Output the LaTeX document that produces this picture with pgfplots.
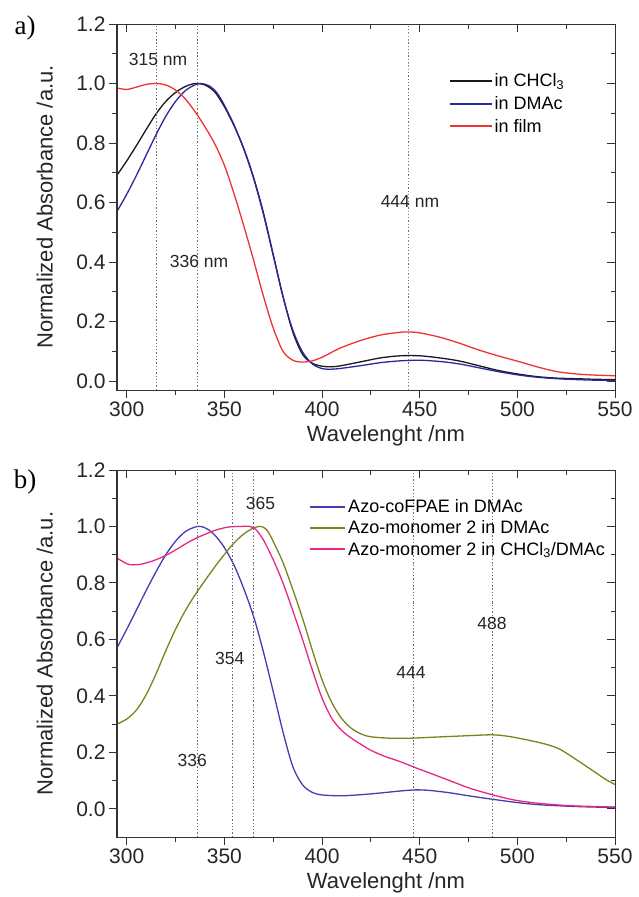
\documentclass[border=0pt]{standalone}
\usepackage{fontspec}
\setmainfont{Liberation Sans}
\newfontfamily\panelfont{Liberation Serif}
\usepackage{pgfplots}
\pgfplotsset{compat=1.18}

\definecolor{cblack}{RGB}{25,25,25}
\definecolor{cblue}{RGB}{40,40,160}
\definecolor{cred}{RGB}{240,50,50}
\definecolor{pblue}{RGB}{70,60,175}
\definecolor{polive}{RGB}{128,128,30}
\definecolor{ppink}{RGB}{230,40,130}
\definecolor{dotgray}{RGB}{110,110,110}

\pgfplotsset{
  frame/.style={
    scale only axis, width=498pt,
    xmin=295, xmax=550, xtick={300,350,400,450,500,550}, minor x tick num=1,
    ymax=1.2, ytick={0,0.2,0.4,0.6,0.8,1.0,1.2}, minor y tick num=1,
    major tick length=8pt, minor tick length=4.5pt,
    every tick/.style={line width=0.9pt, black!80},
    axis line style={line width=1pt, black!80},
    clip=false,
  },
  spectrum/.style={
    frame, tick align=outside, xtick pos=left, ytick pos=left,
    /pgf/number format/assume math mode=true,
    tick label style={font=\fontsize{21}{24}\selectfont, black!85},
    yticklabel style={/pgf/number format/.cd, fixed, fixed zerofill, precision=1},
    label style={font=\fontsize{22}{26}\selectfont, black!85},
    xlabel={Wavelenght /nm}, ylabel={Normalized Absorbance /a.u.},
    xlabel style={at={(axis description cs:0.54,-0.126)}, anchor=center},
    ylabel style={at={(axis description cs:-0.145,0.5)}, anchor=center},
    legend cell align=left,
    every axis plot/.append style={line width=1.3pt, smooth},
  },
  mirror/.style={
    frame, tick align=inside, xtick pos=right, ytick pos=right,
    xticklabels={}, yticklabels={},
  },
  guide/.style={dotted, line width=0.8pt, dotgray, forget plot},
}

\begin{document}
\begin{tikzpicture}
\useasboundingbox (0,0) rectangle (638pt,-897pt);

% ---------------- panel a ----------------
\begin{axis}[spectrum, at={(117pt,-390pt)}, anchor=south west, height=366pt, ymin=-0.03,
  legend style={draw=none, fill=none, font=\fontsize{18}{21}\selectfont,
    at={(0.66,0.875)}, anchor=north west, row sep=4pt},
  legend image code/.code={\draw[#1, line width=1.8pt] (0pt,0pt) -- (42pt,0pt);}]
% in CHCl3
\addplot[cblack] coordinates {
(295,0.692) (300,0.740) (305,0.792) (310,0.846) (315,0.898) (320,0.940) (325,0.970)
(330,0.990) (335,1.000) (340,0.995) (345,0.972) (350,0.922) (355,0.857) (360,0.780)
(365,0.683) (370,0.565) (375,0.425) (380,0.285) (385,0.165) (390,0.090) (395,0.060)
(400,0.050) (405,0.048) (410,0.052) (420,0.065) (430,0.078) (440,0.085) (450,0.085)
(460,0.078) (470,0.068) (480,0.052) (490,0.036) (500,0.024) (510,0.015) (520,0.010)
(530,0.008) (540,0.006) (550,0.005)};
% in DMAc
\addplot[cblue] coordinates {
(295,0.570) (300,0.628) (305,0.692) (310,0.760) (315,0.828) (320,0.890) (325,0.940)
(330,0.976) (335,0.996) (338,1.000) (342,0.993) (346,0.970) (350,0.927) (355,0.860)
(360,0.778) (365,0.680) (370,0.560) (375,0.422) (380,0.283) (385,0.172) (390,0.098)
(395,0.058) (400,0.042) (405,0.040) (410,0.043) (420,0.052) (430,0.062) (440,0.068)
(450,0.070) (460,0.066) (470,0.058) (480,0.045) (490,0.032) (500,0.021) (510,0.013)
(520,0.008) (530,0.005) (540,0.003) (550,0.002)};
% in film
\addplot[cred] coordinates {
(295,0.985) (300,0.980) (305,0.988) (310,0.997) (315,1.000) (320,0.995) (325,0.978)
(330,0.948) (335,0.905) (340,0.855) (345,0.798) (350,0.725) (355,0.628) (360,0.520)
(365,0.405) (370,0.285) (375,0.178) (380,0.100) (385,0.070) (390,0.064) (395,0.068)
(400,0.080) (405,0.097) (410,0.113) (420,0.137) (430,0.155) (440,0.164) (445,0.165)
(450,0.162) (460,0.148) (470,0.128) (480,0.105) (490,0.085) (500,0.067) (510,0.048)
(520,0.032) (530,0.024) (540,0.020) (550,0.018)};
\legend{in CHCl\textsubscript{3}, in DMAc, in film}
\addplot[guide] coordinates {(315,-0.03) (315,1.2)};
\addplot[guide] coordinates {(336,-0.03) (336,1.2)};
\addplot[guide] coordinates {(444,-0.03) (444,1.2)};
\node[font=\fontsize{17.5}{20}\selectfont, black!85] at (axis cs:316,1.08) {315 nm};
\node[font=\fontsize{17.5}{20}\selectfont, black!85] at (axis cs:337,0.403) {336 nm};
\node[font=\fontsize{17.5}{20}\selectfont, black!85] at (axis cs:445,0.605) {444 nm};
\end{axis}
\begin{axis}[mirror, at={(117pt,-390pt)}, anchor=south west, height=366pt, ymin=-0.03]
\end{axis}

% ---------------- panel b ----------------
\begin{axis}[spectrum, at={(117pt,-837pt)}, anchor=south west, height=367pt, ymin=-0.1,
  legend style={draw=none, fill=none, font=\fontsize{18}{21}\selectfont,
    at={(0.38,0.93)}, anchor=north west, row sep=2.5pt},
  legend image code/.code={\draw[#1, line width=1.8pt] (0pt,0pt) -- (35pt,0pt);}]
% Azo-coFPAE in DMAc
\addplot[pblue] coordinates {
(295,0.570) (300,0.636) (305,0.705) (310,0.774) (315,0.840) (320,0.900) (325,0.948)
(330,0.982) (335,0.998) (338,1.000) (342,0.988) (346,0.962) (350,0.925) (355,0.862)
(360,0.778) (365,0.680) (370,0.555) (375,0.415) (380,0.272) (385,0.150) (390,0.085)
(395,0.058) (400,0.049) (410,0.046) (420,0.050) (430,0.056) (440,0.063) (448,0.067)
(455,0.065) (465,0.057) (475,0.046) (487,0.034) (500,0.022) (510,0.015) (520,0.011)
(530,0.008) (540,0.006) (550,0.005)};
% Azo-monomer 2 in DMAc
\addplot[polive] coordinates {
(295,0.300) (300,0.318) (305,0.350) (310,0.405) (315,0.478) (320,0.560) (325,0.636)
(330,0.702) (335,0.758) (340,0.808) (345,0.856) (350,0.901) (355,0.942) (360,0.974)
(365,0.995) (369,1.000) (372,0.985) (375,0.947) (380,0.872) (385,0.777) (390,0.675)
(395,0.562) (400,0.457) (405,0.376) (410,0.320) (415,0.285) (420,0.265) (425,0.255)
(435,0.250) (445,0.250) (455,0.253) (465,0.256) (475,0.259) (487,0.262) (495,0.257)
(505,0.244) (515,0.228) (522,0.210) (530,0.175) (538,0.138) (545,0.105) (550,0.086)};
% Azo-monomer 2 in CHCl3/DMAc
\addplot[ppink] coordinates {
(295,0.888) (300,0.868) (303,0.864) (307,0.866) (312,0.875) (317,0.888) (322,0.905)
(327,0.925) (331,0.942) (336,0.960) (341,0.975) (346,0.988) (352,0.998) (358,1.000)
(363,1.000) (366,0.990) (370,0.952) (375,0.882) (380,0.800) (385,0.702) (390,0.600)
(395,0.492) (400,0.392) (405,0.320) (410,0.278) (415,0.250) (420,0.228) (425,0.207)
(432,0.186) (440,0.167) (448,0.145) (455,0.127) (466,0.098) (476,0.072) (487,0.050)
(495,0.036) (501,0.028) (510,0.020) (520,0.014) (530,0.010) (540,0.008) (550,0.006)};
\legend{Azo-coFPAE in DMAc, Azo-monomer 2 in DMAc, Azo-monomer 2 in CHCl\textsubscript{3}/DMAc}
\addplot[guide] coordinates {(336,-0.1) (336,1.2)};
\addplot[guide] coordinates {(354,-0.1) (354,1.2)};
\addplot[guide] coordinates {(365,-0.1) (365,1.2)};
\addplot[guide] coordinates {(447,-0.1) (447,1.2)};
\addplot[guide] coordinates {(487,-0.1) (487,1.2)};
\node[font=\fontsize{17.5}{20}\selectfont, black!85] at (axis cs:368.5,1.082) {365};
\node[font=\fontsize{17.5}{20}\selectfont, black!85] at (axis cs:352.7,0.534) {354};
\node[font=\fontsize{17.5}{20}\selectfont, black!85] at (axis cs:333.5,0.170) {336};
\node[font=\fontsize{17.5}{20}\selectfont, black!85] at (axis cs:445.5,0.484) {444};
\node[font=\fontsize{17.5}{20}\selectfont, black!85] at (axis cs:487,0.657) {488};
\end{axis}
\begin{axis}[mirror, at={(117pt,-837pt)}, anchor=south west, height=367pt, ymin=-0.1]
\end{axis}

\node[font=\panelfont\fontsize{27}{29}\selectfont] at (25pt,-28pt) {a)};
\node[font=\panelfont\fontsize{27}{29}\selectfont] at (25pt,-482pt) {b)};
\end{tikzpicture}
\end{document}
